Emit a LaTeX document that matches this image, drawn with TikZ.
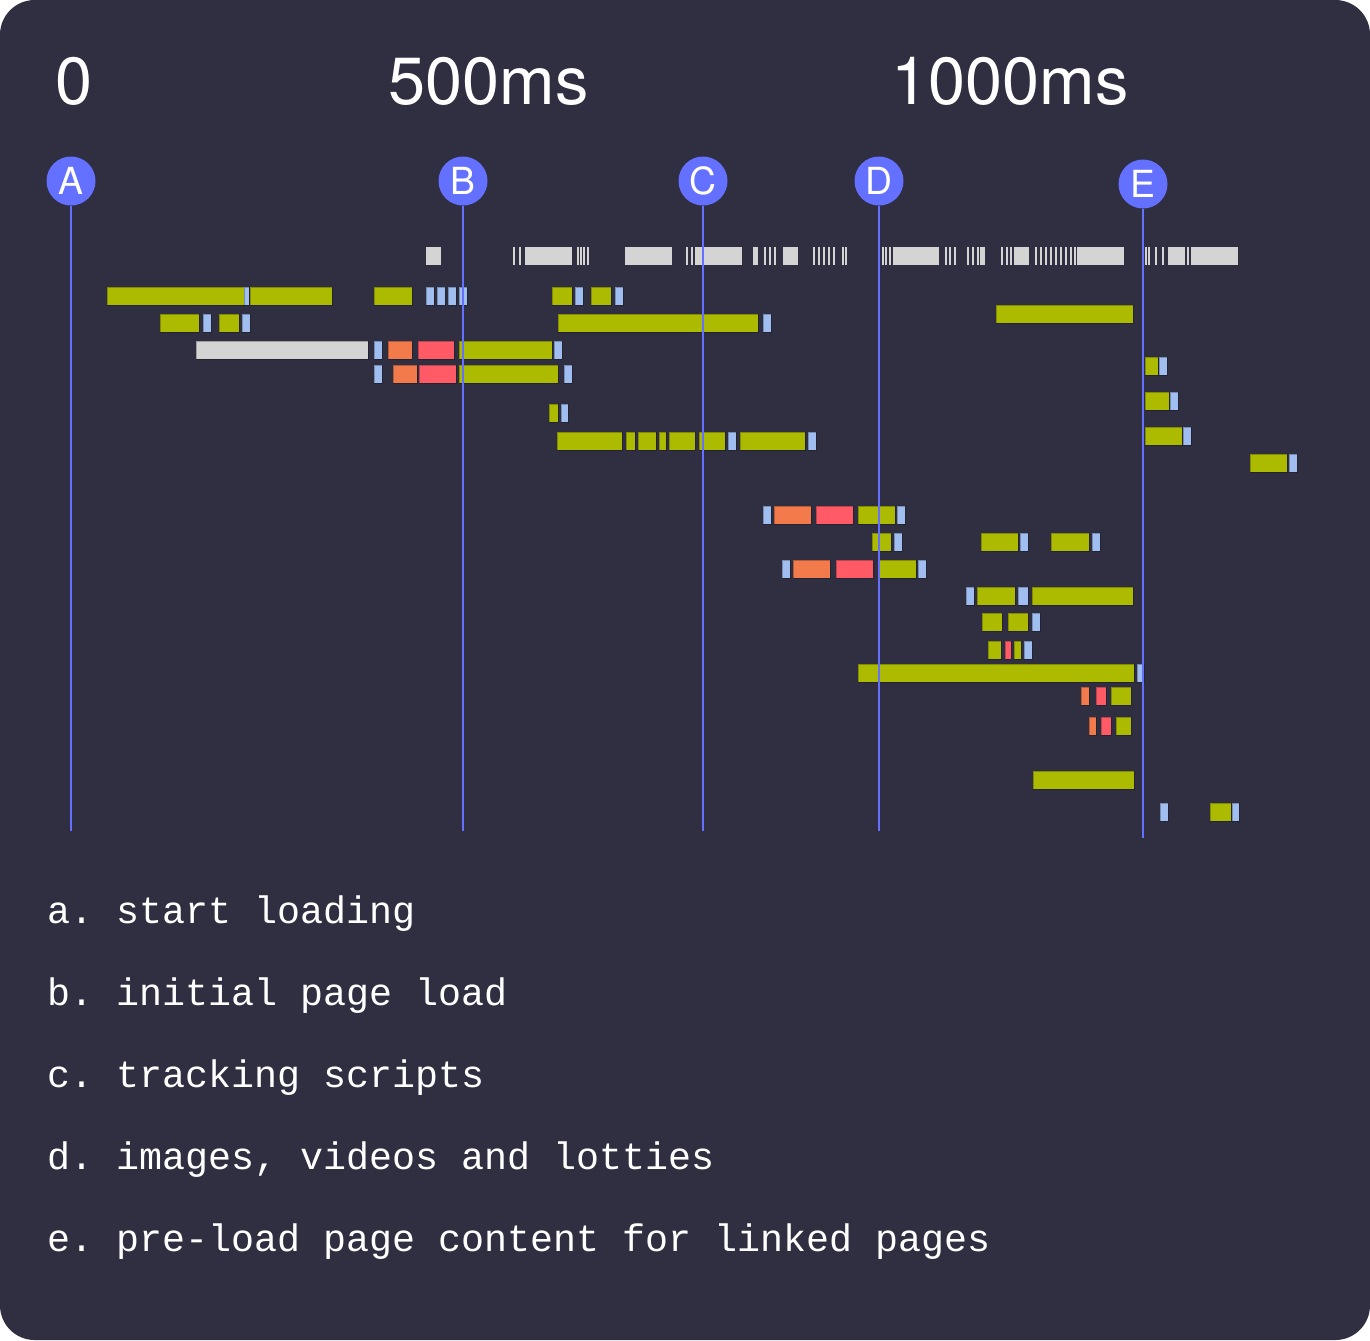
\documentclass[tikz,border=0pt]{standalone}
\usepackage{fontspec}
\setmainfont{TeX Gyre Heros}
\newfontfamily\monof{Liberation Mono}
\definecolor{bgc}{HTML}{302F42}
\definecolor{gc}{HTML}{ADBB00}
\definecolor{bc}{HTML}{A0BEF0}
\definecolor{oc}{HTML}{F37A4A}
\definecolor{rc}{HTML}{FF5A66}
\definecolor{grc}{HTML}{D4D4D4}
\definecolor{pc}{HTML}{6470FF}
\newcommand\sg[4]{\filldraw[#1] (#2,#4) rectangle (#3,{#4+18});}
\newcommand\tk[1]{\fill[grc] (#1,247) rectangle ({#1+1.6},265);}
\frenchspacing
\begin{document}
\begin{tikzpicture}[x=0.75pt,y=-0.75pt,
  G/.style={fill=gc,draw=black,draw opacity=0.25,line width=0.6pt},
  B/.style={fill=bc,draw=black,draw opacity=0.25,line width=0.6pt},
  O/.style={fill=oc,draw=black,draw opacity=0.25,line width=0.6pt},
  R/.style={fill=rc,draw=black,draw opacity=0.25,line width=0.6pt},
  Y/.style={fill=grc,draw=black,draw opacity=0.25,line width=0.6pt},
  marker/.style={circle,fill=pc,text=white,minimum size=36.75pt,inner sep=0pt,font=\fontsize{28}{28}\selectfont},
  vline/.style={draw=pc,line width=1.5pt},
  head/.style={text=white,anchor=base west,inner sep=0pt,font=\fontsize{50}{50}\selectfont},
  legend/.style={text=white,anchor=base west,inner sep=0pt,font=\monof\fontsize{28.75}{30}\selectfont\frenchspacing}]
\useasboundingbox (0,0) rectangle (1370,1340);
\fill[white] (0,0) rectangle (1370,1340);
\fill[bgc,rounded corners=26pt] (0,0) rectangle (1370,1340);
% headings
\node[head] (h0) at (55,104) {0};
\node[head] (h500) at (388,104) {500ms};
\node[head] (h1000) at (891,104) {1000ms};
% grey row
\foreach \a/\b in {426/441,525/572,625/672,695/742,753/758,783/798,893/939,980/985,1014/1029,1077/1124,1170/1185,1191/1238}{\fill[grc] (\a,247) rectangle (\b,265);}
\foreach \t in {513,519,577,580,583,587,686,691,764,769,774,813,818,823,828,833,842,845,882,885,889,945,949,954,967,972,977,1001,1006,1010,1035,1040,1045,1050,1055,1060,1065,1070,1074,1145,1148,1155,1162,1168,1187}{\tk{\t}}
% row 287
\sg{G}{107}{244}{287}\sg{B}{244}{249}{287}\sg{G}{250}{332}{287}\sg{G}{374}{412}{287}
\sg{B}{426}{434}{287}\sg{B}{437}{445}{287}\sg{B}{448}{456}{287}\sg{B}{459}{467}{287}
\sg{G}{552}{572}{287}\sg{B}{575}{583}{287}\sg{G}{591}{611}{287}\sg{B}{615}{623}{287}
% row 314
\sg{G}{160}{199}{314}\sg{B}{203}{211}{314}\sg{G}{219}{239}{314}\sg{B}{242}{250}{314}
\sg{G}{558}{758}{314}\sg{B}{763}{771}{314}
\sg{G}{996}{1133}{305}
% row 341
\sg{Y}{196}{368}{341}\sg{B}{374}{382}{341}\sg{O}{388}{412}{341}\sg{R}{418}{454}{341}\sg{G}{459}{552}{341}\sg{B}{554}{562}{341}
% row 365
\sg{B}{374}{382}{365}\sg{O}{393}{417}{365}\sg{R}{419}{456}{365}\sg{G}{459}{558}{365}\sg{B}{564}{572}{365}
% row 404
\sg{G}{549}{558}{404}\sg{B}{561}{568}{404}
% row 432
\sg{G}{557}{622}{432}\sg{G}{626}{635}{432}\sg{G}{638}{656}{432}\sg{G}{659}{666}{432}\sg{G}{669}{695}{432}\sg{G}{699}{725}{432}\sg{B}{728}{736}{432}\sg{G}{740}{805}{432}\sg{B}{808}{816}{432}
% right small
\sg{G}{1145}{1158}{357}\sg{B}{1159}{1167}{357}
\sg{G}{1145}{1169}{392}\sg{B}{1170}{1178}{392}
\sg{G}{1145}{1182}{427}\sg{B}{1183}{1191}{427}
\sg{G}{1250}{1287}{454}\sg{B}{1289}{1297}{454}
% row 506
\sg{B}{763}{771}{506}\sg{O}{774}{811}{506}\sg{R}{816}{853}{506}\sg{G}{858}{895}{506}\sg{B}{897}{905}{506}
% row 533
\sg{G}{872}{891}{533}\sg{B}{894}{902}{533}\sg{G}{981}{1018}{533}\sg{B}{1020}{1028}{533}\sg{G}{1051}{1089}{533}\sg{B}{1092}{1100}{533}
% row 560
\sg{B}{782}{790}{560}\sg{O}{793}{830}{560}\sg{R}{836}{873}{560}\sg{G}{879}{916}{560}\sg{B}{918}{926}{560}
% row 587
\sg{B}{966}{974}{587}\sg{G}{977}{1015}{587}\sg{B}{1018}{1028}{587}\sg{G}{1032}{1133}{587}
% row 613
\sg{G}{982}{1002}{613}\sg{G}{1008}{1028}{613}\sg{B}{1032}{1040}{613}
% row 641
\sg{G}{988}{1001}{641}\sg{R}{1005}{1011}{641}\sg{G}{1014}{1021}{641}\sg{B}{1024}{1032}{641}
% row 664
\sg{G}{858}{1134}{664}\sg{B}{1137}{1144}{664}
% row 687
\sg{O}{1081}{1089}{687}\sg{R}{1096}{1106}{687}\sg{G}{1111}{1131}{687}
% row 717
\sg{O}{1089}{1096}{717}\sg{R}{1101}{1111}{717}\sg{G}{1116}{1131}{717}
% row 771
\sg{G}{1033}{1134}{771}
% row 803
\sg{B}{1160}{1168}{803}\sg{G}{1210}{1231}{803}\sg{B}{1232}{1239}{803}
% markers and lines
\node[marker] (A) at (71,181) {A};
\node[marker] (Bm) at (463,181) {B};
\node[marker] (C) at (703,181) {C};
\node[marker] (D) at (879,181) {D};
\node[marker] (E) at (1143,184) {E};
\coordinate (Aend) at (71,831);
\coordinate (Bend) at (463,831);
\coordinate (Cend) at (703,831);
\coordinate (Dend) at (879,831);
\coordinate (Eend) at (1143,838);
\draw[vline] (A.south) -- (Aend);
\draw[vline] (Bm.south) -- (Bend);
\draw[vline] (C.south) -- (Cend);
\draw[vline] (D.south) -- (Dend);
\draw[vline] (E.south) -- (Eend);
% legend
\node[legend] (la) at (47,923) {a. start loading};
\node[legend] (lb) at (47,1005) {b. initial page load};
\node[legend] (lc) at (47,1087) {c. tracking scripts};
\node[legend] (ld) at (47,1169) {d. images, videos and lotties};
\node[legend] (le) at (47,1251) {e. pre-load page content for linked pages};
\end{tikzpicture}
\end{document}
